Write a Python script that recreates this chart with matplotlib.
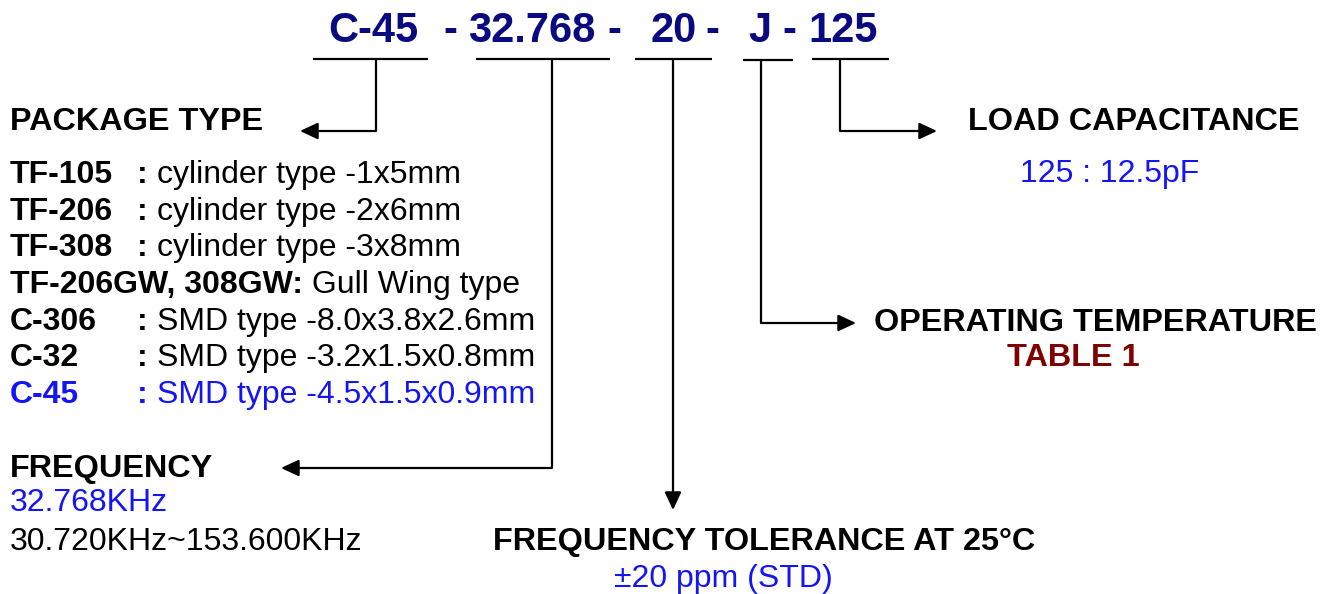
import matplotlib
matplotlib.use("Agg")
import matplotlib.pyplot as plt

plt.rcParams['font.family'] = ['Liberation Sans', 'DejaVu Sans']

W, H = 1334, 594
NAVY = '#0a0a80'
BLUE = '#1414f5'
DARKRED = '#800000'
BLACK = '#000000'

# Part-number segments and separators
code_parts = ["C-45", "-", "32.768", "-", "20", "-", "J", "-", "125"]
code_x = [328, 443, 468, 607, 650, 705, 748, 782, 808]

# Package type table
pkg_codes = ["TF-105", "TF-206", "TF-308", "TF-206GW, 308GW:", "C-306", "C-32", "C-45"]
pkg_desc = ["cylinder type -1x5mm", "cylinder type -2x6mm", "cylinder type -3x8mm",
            " Gull Wing type", "SMD type -8.0x3.8x2.6mm", "SMD type -3.2x1.5x0.8mm",
            "SMD type -4.5x1.5x0.9mm"]
pkg_highlight = [False, False, False, False, False, False, True]

freq_lines = ["32.768KHz", "30.720KHz~153.600KHz"]
tol_lines = ["FREQUENCY TOLERANCE AT 25°C", "±20 ppm (STD)"]
temp_lines = ["OPERATING TEMPERATURE", "TABLE 1"]
load_lines = ["LOAD CAPACITANCE", "125 : 12.5pF"]

fig = plt.figure(figsize=(W / 100, H / 100), dpi=100)
ax = fig.add_axes([0, 0, 1, 1])
ax.set_xlim(0, W)
ax.set_ylim(H, 0)
ax.axis('off')

FS = 23
HFS = 23.3
TFS = 30

# Title
for t, x in zip(code_parts, code_x):
    ax.text(x, 42, t, fontsize=TFS, fontweight='bold', color=NAVY, ha='left', va='baseline')

LW = 1.6
def seg(xs, ys):
    ax.plot(xs, ys, color=BLACK, lw=LW, solid_capstyle='butt', solid_joinstyle='miter')

def arrow(start, tip):
    ax.annotate('', xy=tip, xytext=start,
                arrowprops=dict(arrowstyle='-|>,head_length=0.6,head_width=0.28',
                                mutation_scale=18, color=BLACK, lw=LW,
                                shrinkA=0, shrinkB=0))

# underlines
seg([313, 428], [59, 59]); seg([476, 610], [59, 59]); seg([635, 712], [59, 59])
seg([743, 793], [60, 60]); seg([812, 889], [59, 59])
# connectors
seg([376, 376], [59, 131]); arrow((376, 131), (300, 131))
seg([552, 552], [59, 468]); arrow((552, 468), (281, 468))
seg([673, 673], [59, 495]); arrow((673, 495), (673, 510))
seg([761, 761], [60, 323]); arrow((761, 323), (856, 323))
seg([840, 840], [59, 131]); arrow((840, 131), (937, 131))

# Package type
ax.text(10, 130, "PACKAGE TYPE", fontsize=HFS, fontweight='bold', color=BLACK, va='baseline')
y0, dy = 183, 36.67
for i, (c, d, hl) in enumerate(zip(pkg_codes, pkg_desc, pkg_highlight)):
    y = y0 + i * dy
    col = BLUE if hl else BLACK
    t = ax.text(10, y, c, fontsize=FS, fontweight='bold', color=col, va='baseline')
    if c.endswith(':'):
        ax.annotate(d, xycoords=t, xy=(1, 0), va='bottom', ha='left',
                    fontsize=FS, color=col)
    else:
        ax.text(137, y, ":", fontsize=FS, fontweight='bold', color=col, va='baseline')
        ax.text(157, y, d, fontsize=FS, color=col, va='baseline')

# Frequency
ax.text(10, 477, "FREQUENCY", fontsize=HFS, fontweight='bold', color=BLACK, va='baseline')
ax.text(10, 511, freq_lines[0], fontsize=FS, color=BLUE, va='baseline')
ax.text(10, 550, freq_lines[1], fontsize=FS, color=BLACK, va='baseline')

# Tolerance
ax.text(764, 550, tol_lines[0], fontsize=HFS, fontweight='bold', color=BLACK, va='baseline', ha='center')
ax.text(723, 587, tol_lines[1], fontsize=FS, color=BLUE, va='baseline', ha='center')

# Temperature
ax.text(1096, 331, temp_lines[0], fontsize=HFS, fontweight='bold', color=BLACK, va='baseline', ha='center')
ax.text(1073, 366, temp_lines[1], fontsize=HFS, fontweight='bold', color=DARKRED, va='baseline', ha='center')

# Load
ax.text(1134, 130, load_lines[0], fontsize=HFS, fontweight='bold', color=BLACK, va='baseline', ha='center')
ax.text(1110, 182, load_lines[1], fontsize=FS, color=BLUE, va='baseline', ha='center')

fig.savefig('out.png', dpi=100)
